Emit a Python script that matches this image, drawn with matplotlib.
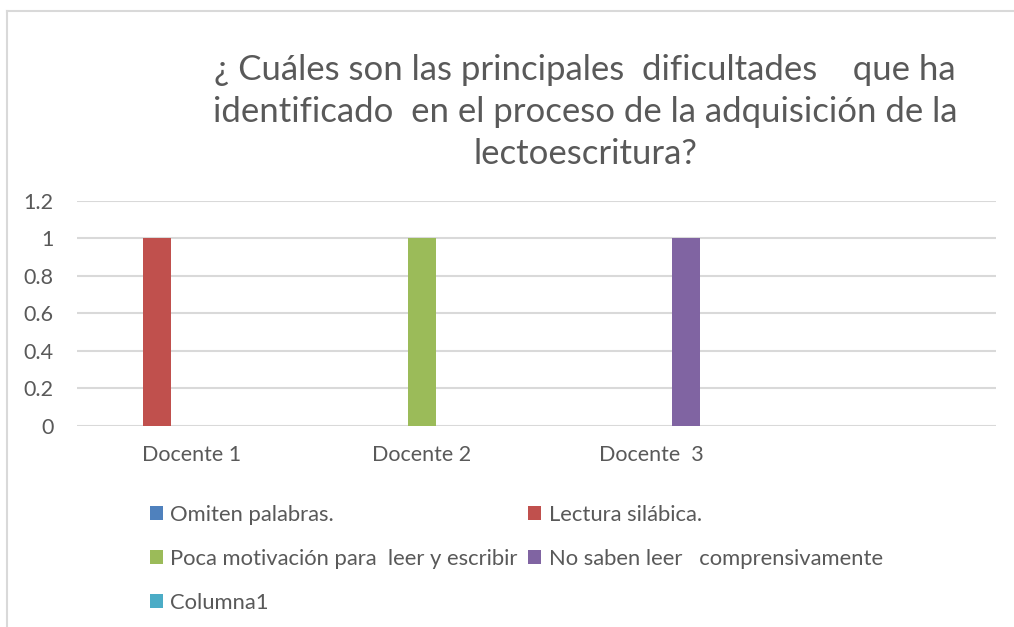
import matplotlib
matplotlib.use("Agg")
import matplotlib.pyplot as plt
from matplotlib.lines import Line2D
from matplotlib.patches import Patch
import numpy as np

# data
categories = ["Docente 1", "Docente 2", "Docente  3", ""]
series_names = [
    "Omiten palabras.",
    "Lectura silábica.",
    "Poca motivación para  leer y escribir",
    "No saben leer   comprensivamente",
    "Columna1",
]
omiten = [0, 0, 0, 0]
lectura = [1, 0, 0, 0]
poca_motivacion = [0, 1, 0, 0]
no_saben = [0, 0, 1, 0]
columna1 = [0, 0, 0, 0]
series_values = [omiten, lectura, poca_motivacion, no_saben, columna1]
colors = ["#4f81bd", "#c0504d", "#9bbb59", "#8064a2", "#4bacc6"]

title = ("¿ Cuáles son las principales  dificultades    que ha\n"
         "identificado  en el proceso de la adquisición de la\n"
         "lectoescritura?")

plt.rcParams["font.family"] = ["Lato", "DejaVu Sans"]
text_color = "#595959"
grid_color = "#d9d9d9"

W, H = 1014, 627
fig = plt.figure(figsize=(W / 100, H / 100), dpi=100)
ax = fig.add_axes([77 / W, (H - 426) / H, 919 / W, 225.3 / H])

x = np.arange(len(categories))
bar_w = 0.122
step = 0.152
handles = []
for i, (name, vals, c) in enumerate(zip(series_names, series_values, colors)):
    ax.bar(x + (i - 2) * step, vals, width=bar_w, color=c, zorder=3)
    handles.append(Patch(facecolor=c, label=name))

ax.set_xlim(-0.5, len(categories) - 0.5)
ax.set_ylim(0, 1.2)
ax.set_yticks([0, 0.2, 0.4, 0.6, 0.8, 1.0, 1.2])
ax.set_yticklabels(["0", "0.2", "0.4", "0.6", "0.8", "1", "1.2"])
ax.set_xticks(x)
ax.set_xticklabels(categories)
ax.tick_params(axis="y", length=0, pad=17, labelsize=15.5, labelcolor=text_color)
ax.tick_params(axis="x", length=0, pad=14, labelsize=15.5, labelcolor=text_color)
ax.grid(axis="y", color=grid_color, linewidth=1.5, zorder=0)
for s in ax.spines.values():
    s.set_visible(False)

fig.text(585 / W, 1 - 112 / H, title, ha="center", va="center",
         multialignment="center", fontsize=25, color=text_color, linespacing=1.38)

# legend in Excel row order
order = [0, 2, 4, 1, 3]
leg = fig.legend([handles[k] for k in order], [series_names[k] for k in order],
                 ncol=2, loc="upper left", bbox_to_anchor=(141 / W, 1 - 496 / H),
                 frameon=False, fontsize=15.8, labelcolor=text_color,
                 handlelength=0.6, handleheight=0.6, handletextpad=0.32,
                 columnspacing=0.5, labelspacing=1.1, borderaxespad=0)

# chart border (partially cropped in the original)
fig.add_artist(Line2D([7 / W, 7 / W], [0, 1 - 11 / H], color=grid_color, lw=1.5))
fig.add_artist(Line2D([7 / W, 1], [1 - 11 / H, 1 - 11 / H], color=grid_color, lw=1.5))

fig.savefig("out.png", dpi=100)
